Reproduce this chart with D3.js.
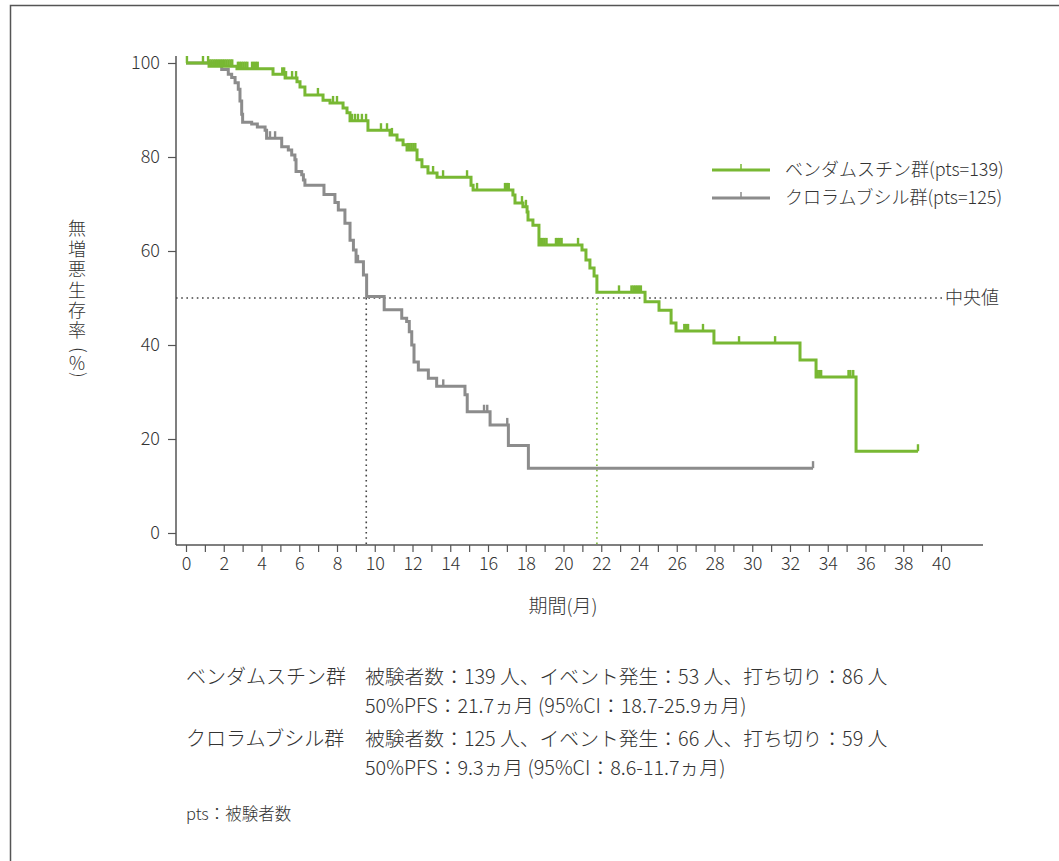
<!DOCTYPE html>
<html><head><meta charset="utf-8">
<script src="https://cdn.jsdelivr.net/npm/d3@7"></script>
<style>
html,body{margin:0;padding:0;background:#fff;}
svg{display:block;font-family:"Noto Sans CJK JP","Noto Sans",sans-serif;}
</style></head>
<body>
<svg id="chart" width="1059" height="861"></svg>
<script>
// ---- data ----
const xTicks = d3.range(0, 41, 1);
const xTickLabels = d3.range(0, 41, 2);
const yTicks = [0, 20, 40, 60, 80, 100];

const seriesNames = ["ベンダムスチン群(pts=139)", "クロラムブシル群(pts=125)"];

// Bendamustine: [time (months), survival %]
const bendaEvents = [
  [0,100],[1.22,99.3],[2.70,98.8],[4.61,97.6],[5.25,96.8],[5.88,96.0],[6.04,94.9],[6.30,93.2],
  [7.26,92.1],[7.63,91.5],[8.32,90.4],[8.53,89.4],[8.69,87.7],[9.64,85.7],[10.81,84.7],
  [11.18,83.6],[11.50,82.6],[11.71,81.5],[12.24,79.4],[12.50,77.9],[12.82,76.6],[13.30,75.7],
  [15.10,74.0],[15.21,73.0],[17.32,71.9],[17.43,70.2],[17.85,69.4],[18.07,68.3],[18.12,66.6],
  [18.38,65.5],[18.70,61.3],[20.98,60.2],[21.19,58.1],[21.40,56.4],[21.62,54.7],[21.77,51.2],
  [24.32,49.2],[25.06,47.4],[25.70,44.7],[25.96,43.0],[27.97,40.4],[32.53,36.8],[33.38,33.2],
  [35.50,17.4],[38.78,17.4]
];
const bendaCensors = [
  0.05,0.90,1.17,1.25,1.35,1.45,1.55,1.65,1.75,1.85,1.95,2.05,2.15,2.25,2.35,2.45,
  2.75,2.85,2.95,3.05,3.15,3.25,3.5,3.6,3.7,3.8,5.1,5.2,5.3,5.62,5.83,6.99,7.79,8.0,
  8.79,8.95,9.11,9.32,9.54,10.33,10.65,10.91,11.75,11.85,11.95,12.05,12.15,13.09,13.62,
  14.89,15.42,16.9,17.0,17.1,17.80,18.01,18.8,18.9,19.0,19.1,19.6,19.7,19.8,19.9,20.77,
  22.94,23.6,23.7,23.8,23.9,24.0,24.1,26.4,26.5,26.6,27.39,29.30,31.21,33.45,33.55,33.65,
  35.1,35.2,35.35,38.78
];

// Chlorambucil
const chloEvents = [
  [0,100],[1.89,98.6],[2.24,97.6],[2.42,96.9],[2.60,95.8],[2.77,94.4],[2.86,91.9],[2.95,89.1],
  [3.0,87.4],[3.48,87.0],[3.78,86.4],[4.19,85.7],[4.27,84.0],[5.07,82.2],[5.42,81.5],[5.60,80.4],
  [5.77,79.4],[5.83,76.9],[6.13,76.2],[6.22,75.1],[6.30,74.0],[7.31,72.0],[7.89,70.3],
  [8.07,68.7],[8.42,65.9],[8.69,62.3],[8.87,60.2],[9.01,57.7],[9.40,54.9],[9.57,50.3],
  [10.50,47.5],[11.43,45.7],[11.69,45.0],[11.83,42.8],[11.96,40.0],[12.08,36.4],[12.31,34.7],
  [12.84,32.9],[13.28,31.2],[14.78,29.4],[14.90,25.8],[16.11,23.0],[17.08,18.6],[18.14,13.8],
  [33.22,13.8]
];
const chloCensors = [4.45,4.72,9.11,13.63,15.79,15.96,17.02,33.22];

const medianBenda = 21.77;
const medianChlo = 9.55;
const medianLevel = 50;

const summaryRows = [
  ["ベンダムスチン群", "被験者数：139 人、イベント発生：53 人、打ち切り：86 人"],
  ["", "50%PFS：21.7ヵ月 (95%CI：18.7-25.9ヵ月)"],
  ["クロラムブシル群", "被験者数：125 人、イベント発生：66 人、打ち切り：59 人"],
  ["", "50%PFS：9.3ヵ月 (95%CI：8.6-11.7ヵ月)"]
];
const footnote = "pts：被験者数";
const yTitle = "無増悪生存率(％)";

// ---- drawing ----
const green = "#78b833", gray = "#8c8c8c", textCol = "#333", axisCol = "#555";
const svg = d3.select("#chart");

// frame
svg.append("path").attr("d","M10.5,861 V5.5 H1059").attr("fill","none")
  .attr("stroke","#555").attr("stroke-width",1.5);

const x = d3.scaleLinear().domain([0,40]).range([186,941]);
const y = d3.scaleLinear().domain([0,100]).range([533,63]);

// axes
const xAxis = svg.append("g").attr("transform","translate(0,545)")
  .call(d3.axisBottom(x).tickValues(xTicks).tickSize(7).tickPadding(5)
    .tickFormat(d => xTickLabels.includes(d) ? d : ""));
xAxis.select(".domain").remove();
xAxis.selectAll("line").attr("stroke",axisCol).attr("stroke-width",1.2);
xAxis.selectAll("text").attr("font-size",18).attr("fill",textCol).attr("font-weight",300)
  .attr("font-family","'Noto Sans CJK JP',sans-serif");
svg.append("line").attr("x1",176).attr("x2",983).attr("y1",545).attr("y2",545)
  .attr("stroke",axisCol).attr("stroke-width",1.5);

const yAxis = svg.append("g").attr("transform","translate(176,0)")
  .call(d3.axisLeft(y).tickValues(yTicks).tickSize(8).tickPadding(8));
yAxis.select(".domain").remove();
yAxis.selectAll("line").attr("stroke",axisCol).attr("stroke-width",1.2);
yAxis.selectAll("text").attr("font-size",18).attr("fill",textCol).attr("font-weight",300)
  .attr("font-family","'Noto Sans CJK JP',sans-serif");
svg.append("line").attr("x1",176).attr("x2",176).attr("y1",56).attr("y2",545)
  .attr("stroke",axisCol).attr("stroke-width",1.5);

// axis titles
svg.append("text").attr("x",563).attr("y",613).attr("text-anchor","middle")
  .attr("font-size",19).attr("fill",textCol).attr("font-weight",300).text("期間(月)");

// vertical y title: one text element, per-glyph positions, parentheses rotated
(function(){
  const fs = 18, cx = 77;
  const chars = Array.from(yTitle);
  const xs = [], ys = [], rs = [];
  chars.forEach((c,i)=>{
    if (c === "(") { xs.push(cx-5.4); ys.push(347); rs.push(90); }
    else if (c === ")") { xs.push(cx-5.4); ys.push(372); rs.push(90); }
    else if (c === "％") { xs.push(cx-fs/2); ys.push(363.5+6.5); rs.push(0); }
    else { xs.push(cx-fs/2); ys.push(228.5 + i*20.4 + 6.8); rs.push(0); }
  });
  svg.append("text").attr("x",xs.join(" ")).attr("y",ys.join(" ")).attr("rotate",rs.join(" "))
    .attr("font-size",fs).attr("fill",textCol).attr("font-weight",300).text(yTitle);
})();

// median lines
svg.append("line").attr("x1",176).attr("x2",943).attr("y1",y(medianLevel)).attr("y2",y(medianLevel))
  .attr("stroke","#444").attr("stroke-width",1.6).attr("stroke-dasharray","1.6,3.6");
svg.append("line").attr("x1",x(medianChlo)).attr("x2",x(medianChlo)).attr("y1",y(medianLevel)).attr("y2",545)
  .attr("stroke","#444").attr("stroke-width",1.6).attr("stroke-dasharray","1.6,3.6");
svg.append("line").attr("x1",x(medianBenda)).attr("x2",x(medianBenda)).attr("y1",y(medianLevel)).attr("y2",545)
  .attr("stroke",green).attr("stroke-width",1.6).attr("stroke-dasharray","1.6,3.6");
svg.append("text").attr("x",945).attr("y",y(medianLevel)+6).attr("font-size",18)
  .attr("fill",textCol).attr("font-weight",300).text("中央値");

// curves
const line = d3.line().x(d=>x(d[0])).y(d=>y(d[1])).curve(d3.curveStepAfter);
function survAt(events, t){
  let s = events[0][1];
  for (const e of events){ if (e[0] <= t) s = e[1]; }
  return s;
}
function drawCurve(events, censors, color){
  const g = svg.append("g");
  g.append("path").attr("d", line(events)).attr("fill","none")
    .attr("stroke",color).attr("stroke-width",3);
  g.selectAll("line.c").data(censors).join("line").attr("class","c")
    .attr("x1",d=>x(d)).attr("x2",d=>x(d))
    .attr("y1",d=>y(survAt(events,d))).attr("y2",d=>y(survAt(events,d))-7)
    .attr("stroke",color).attr("stroke-width",2.4);
}
drawCurve(chloEvents, chloCensors, gray);
drawCurve(bendaEvents, bendaCensors, green);

// legend
const legend = svg.append("g");
[[green,170],[gray,198]].forEach((c,i)=>{
  legend.append("line").attr("x1",712).attr("x2",770).attr("y1",c[1]).attr("y2",c[1])
    .attr("stroke",c[0]).attr("stroke-width",3);
  legend.append("line").attr("x1",741).attr("x2",741).attr("y1",c[1]).attr("y2",c[1]-6)
    .attr("stroke",c[0]).attr("stroke-width",1.5);
  legend.append("text").attr("x",785).attr("y",c[1]+6).attr("font-size",18)
    .attr("fill",textCol).attr("font-weight",300).text(seriesNames[i]);
});

// summary text
const rowY = [684, 713, 746, 775];
summaryRows.forEach((r,i)=>{
  if (r[0]) svg.append("text").attr("x",186).attr("y",rowY[i]).attr("font-size",20)
    .attr("fill",textCol).attr("font-weight",300).text(r[0]);
  svg.append("text").attr("x",365).attr("y",rowY[i]).attr("font-size",19.8)
    .attr("fill",textCol).attr("font-weight",300).text(r[1]);
});
svg.append("text").attr("x",186).attr("y",820).attr("font-size",16.5)
  .attr("fill",textCol).attr("font-weight",300).text(footnote);
</script>
</body></html>
